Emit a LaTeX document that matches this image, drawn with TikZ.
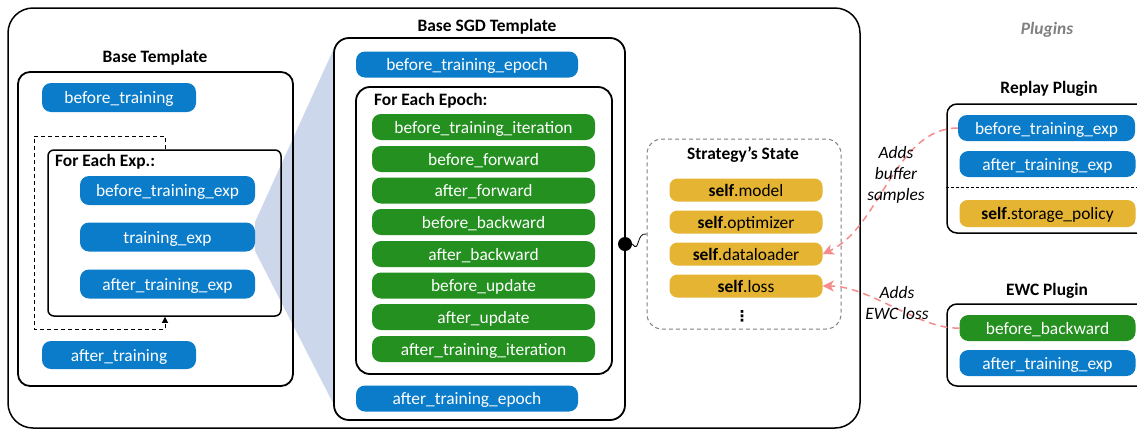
\documentclass[tikz,border=0pt]{standalone}
\usepackage{fontspec}
\setmainfont{Carlito}
\newfontfamily\dejavu{DejaVu Sans}
\usetikzlibrary{arrows.meta}
\definecolor{hblue}{HTML}{0A7CCA}
\definecolor{hgreen}{HTML}{23901F}
\definecolor{hyellow}{HTML}{E4B432}
\definecolor{wedgec}{HTML}{CDD7EC}
\definecolor{pinkc}{HTML}{F58C8C}
\definecolor{grayc}{HTML}{808080}
\newcommand{\hf}{\fontsize{17.4}{20}\selectfont}
\begin{document}
\begin{tikzpicture}[x=1pt,y=-1pt,
  hook/.style={rounded corners=9pt, inner sep=0pt, text=white, font=\hf,
    text height=12pt, text depth=0pt},
  bluehook/.style={hook, fill=hblue},
  greenhook/.style={hook, fill=hgreen},
  yellowhook/.style={hook, fill=hyellow, text=black, rounded corners=8pt},
  container/.style={draw, line width=1.8pt, rounded corners=12pt, inner sep=0pt},
  title/.style={font=\hf\bfseries, inner sep=0pt, text height=12pt, text depth=0pt},
  loopline/.style={draw, line width=1pt, dash pattern=on 4pt off 3pt,
    -{Triangle[length=6pt,width=6pt]}},
  plugarrow/.style={draw=pinkc, line width=1.5pt, dash pattern=on 7pt off 5pt,
    -{Stealth[length=11pt,width=11pt,inset=3pt,fill=pinkc]}},
  note/.style={font=\hf\itshape, align=center, inner sep=0pt}
]
\useasboundingbox (0,0) rectangle (1137,429);

% wedge zoom
\fill[wedgec] (255,222) -- (335,46) -- (335,407) -- (255,251) -- cycle;

% outer frame
\node[draw, line width=1.5pt, rounded corners=25pt, minimum width=852pt,
  minimum height=420pt, inner sep=0pt] (outer) at (434,218) {};

% Base template
\node[title] (basetitle) at (155,56) {Base Template};
\node[container, minimum width=275pt, minimum height=314pt] (basebox) at (155.5,229) {};
\node[bluehook, minimum width=154pt, minimum height=29pt] (btr) at (119,97.5) {before\_training};
\node[bluehook, minimum width=154pt, minimum height=28pt] (atr) at (119,355) {after\_training};
\node[container, line width=1.5pt, rounded corners=6pt, minimum width=233pt, minimum height=166pt] (expbox) at (164.5,233) {};
\node[title, anchor=west] (exptitle) at (55,160.5) {For Each Exp.:};
\node[bluehook, minimum width=175pt, minimum height=29pt] (bte) at (167.5,190.5) {before\_training\_exp};
\node[bluehook, minimum width=175pt, minimum height=29pt] (te) at (167.5,237) {training\_exp};
\node[bluehook, minimum width=175pt, minimum height=29pt] (ate) at (167.5,284) {after\_training\_exp};
\coordinate (loopx) at (165,0);
\coordinate (loopl) at (34,329);
\draw[loopline] (expbox.north -| loopx) -- ++(0,-13) -| (loopl) -| (expbox.south -| loopx);

% Base SGD template
\node[title] (sgdtitle) at (487,25.5) {Base SGD Template};
\node[container, fill=white, rounded corners=15pt, minimum width=291pt, minimum height=382pt] (sgdbox) at (479.5,229) {};
\node[bluehook, minimum width=222pt, minimum height=26pt] (bep) at (467,64.5) {before\_training\_epoch};
\node[bluehook, minimum width=222pt, minimum height=26pt] (aep) at (467,398.5) {after\_training\_epoch};
\node[container, rounded corners=14pt, minimum width=256pt, minimum height=287pt] (epochbox) at (484,230.5) {};
\node[title, anchor=west] (epochtitle) at (374,99.5) {For Each Epoch:};
\foreach \n/\t/\y in {g1/before\_training\_iteration/127, g2/before\_forward/159,
  g3/after\_forward/190.5, g4/before\_backward/222, g5/after\_backward/254,
  g6/before\_update/285.5, g7/after\_update/317, g8/after\_training\_iteration/349}
  \node[greenhook, minimum width=223pt, minimum height=26pt] (\n) at (483.5,\y) {\t};

% Strategy's state
\node[draw=grayc, line width=1pt, dash pattern=on 4pt off 3pt, rounded corners=15pt,
  minimum width=194pt, minimum height=190pt, inner sep=0pt] (statebox) at (744,234) {};
\node[title] (statetitle) at (743,153.5) {Strategy’s State};
\node[yellowhook, minimum width=153pt, minimum height=23pt] (smodel) at (746,190) {\textbf{self}.model};
\node[yellowhook, minimum width=153pt, minimum height=23pt] (sopt) at (746,222) {\textbf{self}.optimizer};
\node[yellowhook, minimum width=153pt, minimum height=23pt] (sloss0) at (746,254) {\textbf{self}.dataloader};
\node[yellowhook, minimum width=153pt, minimum height=23pt] (sloss) at (746,286) {\textbf{self}.loss};
\node[font=\dejavu\bfseries\fontsize{15}{15}\selectfont, inner sep=0pt] (sdots) at (742,316) {⋮};

\node[circle, fill=black, minimum size=14pt, inner sep=0pt] (dot) at (625,244) {};
\draw[line width=0.8pt] (dot.east) .. controls (640,254) and (636,232) .. (statebox.west);

% Plugins
\node[title, font=\hf\bfseries\itshape, text=grayc] (plugtitle) at (1047,28) {Plugins};
\node[title] (replaytitle) at (1049,87.5) {Replay Plugin};
\node[container, line width=1.5pt, rounded corners=10pt, minimum width=203pt, minimum height=129pt] (replaybox) at (1048.5,168.5) {};
\node[bluehook, minimum width=177pt, minimum height=26pt] (rbte) at (1046.5,128) {before\_training\_exp};
\node[bluehook, minimum width=176pt, minimum height=26pt] (rate) at (1047.5,164) {after\_training\_exp};
\draw[line width=0.8pt, dash pattern=on 3pt off 2pt] (replaybox.west |- 0,187) -- (1137,187);
\node[yellowhook, minimum width=176pt, minimum height=27pt] (rsp) at (1047.5,213.5) {\textbf{self}.storage\_policy};

\node[title] (ewctitle) at (1047,289) {EWC Plugin};
\node[container, line width=1.5pt, rounded corners=10pt, minimum width=203pt, minimum height=82pt] (ewcbox) at (1048.5,345) {};
\node[greenhook, minimum width=176pt, minimum height=26pt] (ebb) at (1047.5,328) {before\_backward};
\node[bluehook, minimum width=176pt, minimum height=26pt] (eate) at (1047.5,363) {after\_training\_exp};

% plugin arrows
\draw[plugarrow] (rbte.west) .. controls (895,128) and (880,228) .. (sloss0.east);
\draw[plugarrow] (ebb.west) .. controls (920,330) and (870,286) .. (sloss.east);
\node[note] (note1) at (896,175) {Adds\\[1pt]buffer\\[1pt]samples};
\node[note] (note2) at (897,303) {Adds\\[1pt]EWC loss};
\end{tikzpicture}
\end{document}
